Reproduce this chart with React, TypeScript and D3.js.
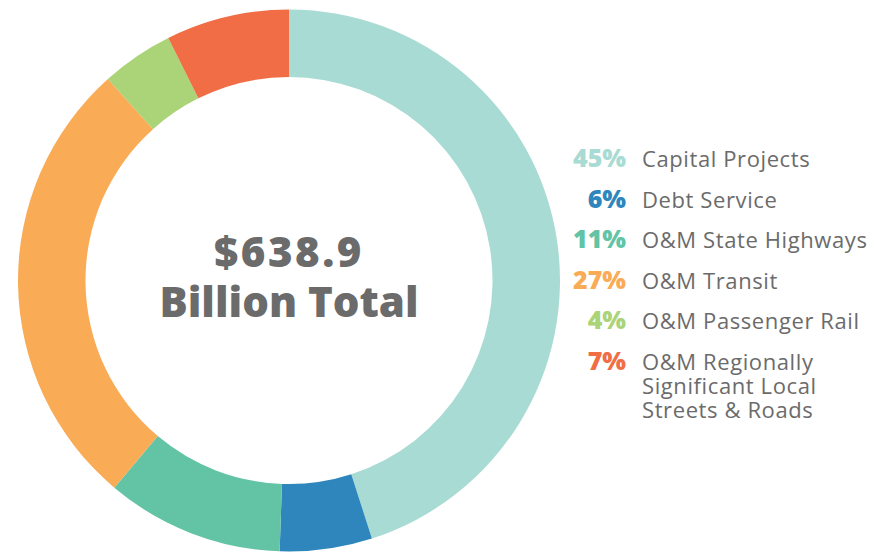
import React from "react";
import * as d3 from "d3";

const categories = [
  "Capital Projects",
  "Debt Service",
  "O&M State Highways",
  "O&M Transit",
  "O&M Passenger Rail",
  "O&M Regionally Significant Local Streets & Roads",
];
const shares = [45.05, 5.5, 10.6, 27.2, 4.3, 7.35];
const percentLabels = ["45%", "6%", "11%", "27%", "4%", "7%"];
const legendLines = [
  ["Capital Projects"],
  ["Debt Service"],
  ["O&M State Highways"],
  ["O&M Transit"],
  ["O&M Passenger Rail"],
  ["O&M Regionally", "Significant Local", "Streets & Roads"],
];
const colors = ["#a8dbd3", "#2e86bc", "#62c3a5", "#f9ab56", "#abd377", "#f06d45"];
const totalLines = ["$638.9", "Billion Total"];

export default function App() {
  const W = 890, H = 552;
  const cx = 289, cy = 280.5, rOuter = 271, rInner = 203.5;
  const pie = d3.pie<number>().sort(null).value((d) => d)(shares);
  const arc = d3.arc<d3.PieArcDatum<number>>().innerRadius(rInner).outerRadius(rOuter);
  const rowY = d3.scaleLinear().domain([0, 5]).range([167, 370]);
  const font = "'Open Sans', 'Noto Sans', sans-serif";
  return (
    <svg width={W} height={H} style={{ position: "absolute", left: 0, top: 0, background: "#fff" }}>
      <g transform={`translate(${cx},${cy})`}>
        {pie.map((p, i) => (
          <path key={categories[i]} d={arc(p) || ""} fill={colors[i]} />
        ))}
      </g>
      <g fill="#6b6b6b" fontFamily={font} fontWeight={800} textAnchor="middle">
        <text x={cx} y={267} fontSize={42} letterSpacing={2.5}>{totalLines[0]}</text>
        <text x={cx} y={317} fontSize={42}>{totalLines[1]}</text>
      </g>
      <g fontFamily={font}>
        {categories.map((c, i) => (
          <g key={c}>
            <text x={626} y={rowY(i)} fontSize={25} fontWeight={800} fill={colors[i]} textAnchor="end">
              {percentLabels[i]}
            </text>
            <text x={642} y={rowY(i)} fontSize={22} letterSpacing={0.6} fill="#6b6b6b">
              {legendLines[i].map((l, j) => (
                <tspan key={l} x={642} dy={j === 0 ? 0 : 24}>
                  {l}
                </tspan>
              ))}
            </text>
          </g>
        ))}
      </g>
    </svg>
  );
}
